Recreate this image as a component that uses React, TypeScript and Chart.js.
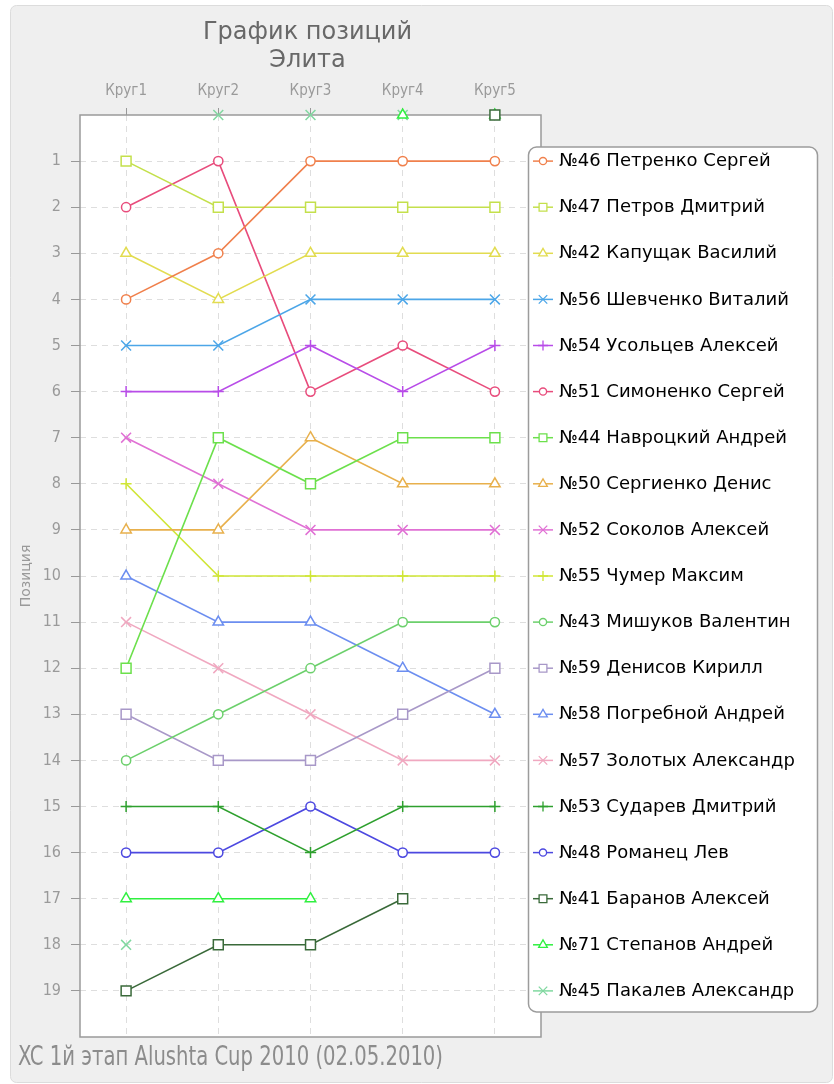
import React, { useEffect, useRef } from 'react';
import { Chart, registerables } from 'chart.js';
import { drawPoint } from 'chart.js/helpers';

Chart.register(...registerables);

// ---- data ----
const rounds = ['Круг1', 'Круг2', 'Круг3', 'Круг4', 'Круг5'];
const chartTitle = ['График позиций', 'Элита'];
const chartSubtitle = 'XC 1й этап Alushta Cup 2010 (02.05.2010)';
const yAxisTitle = 'Позиция';

// position per lap (0 = not classified / drawn on top edge)
const p46 = [4, 3, 1, 1, 1];
const p47 = [1, 2, 2, 2, 2];
const p42 = [3, 4, 3, 3, 3];
const p56 = [5, 5, 4, 4, 4];
const p54 = [6, 6, 5, 6, 5];
const p51 = [2, 1, 6, 5, 6];
const p44 = [12, 7, 8, 7, 7];
const p50 = [9, 9, 7, 8, 8];
const p52 = [7, 8, 9, 9, 9];
const p55 = [8, 10, 10, 10, 10];
const p43 = [14, 13, 12, 11, 11];
const p59 = [13, 14, 14, 13, 12];
const p58 = [10, 11, 11, 12, 13];
const p57 = [11, 12, 13, 14, 14];
const p53 = [15, 15, 16, 15, 15];
const p48 = [16, 16, 15, 16, 16];
const p41 = [19, 18, 18, 17, 0];
const p71 = [17, 17, 17, 0, 0];
const p45 = [18, 0, 0, 0, 0];

const riderNames = [
  '№46 Петренко Сергей',
  '№47 Петров Дмитрий',
  '№42 Капущак Василий',
  '№56 Шевченко Виталий',
  '№54 Усольцев Алексей',
  '№51 Симоненко Сергей',
  '№44 Навроцкий Андрей',
  '№50 Сергиенко Денис',
  '№52 Соколов Алексей',
  '№55 Чумер Максим',
  '№43 Мишуков Валентин',
  '№59 Денисов Кирилл',
  '№58 Погребной Андрей',
  '№57 Золотых Александр',
  '№53 Сударев Дмитрий',
  '№48 Романец Лев',
  '№41 Баранов Алексей',
  '№71 Степанов Андрей',
  '№45 Пакалев Александр',
];
const riderValues = [p46, p47, p42, p56, p54, p51, p44, p50, p52, p55, p43, p59, p58, p57, p53, p48, p41, p71, p45];

const riderColors = [
  '#f0804c', '#c4e04c', '#e2dc50', '#4ca6e8', '#b84ce8',
  '#e84c7c', '#6ce04c', '#e8b04c', '#e070d4', '#d0e634',
  '#6cd06c', '#a898c8', '#6c8ef0', '#f0a8c0', '#2ea02e',
  '#4c48e0', '#3a6a3a', '#30f040', '#80d8a0',
];
const shapeCycle = ['circle', 'rect', 'triangle', 'crossRot', 'cross'];

const shapeRadius: Record<string, number> = { circle: 4.6, rect: 7, triangle: 6, crossRot: 7, cross: 5.5 };
const legendRadius: Record<string, number> = { circle: 3.6, rect: 5.5, triangle: 5, crossRot: 6, cross: 5 };

const FONT = '"DejaVu Sans", sans-serif';
const COND = '"DejaVu Sans Condensed", "DejaVu Sans", sans-serif';

function roundRect(ctx: CanvasRenderingContext2D, x: number, y: number, w: number, h: number, r: number) {
  ctx.beginPath();
  ctx.moveTo(x + r, y);
  ctx.lineTo(x + w - r, y);
  ctx.arcTo(x + w, y, x + w, y + r, r);
  ctx.lineTo(x + w, y + h - r);
  ctx.arcTo(x + w, y + h, x + w - r, y + h, r);
  ctx.lineTo(x + r, y + h);
  ctx.arcTo(x, y + h, x, y + h - r, r);
  ctx.lineTo(x, y + r);
  ctx.arcTo(x, y, x + r, y, r);
  ctx.closePath();
}

const decorPlugin = {
  id: 'decor',
  beforeDraw(chart: any) {
    const { ctx, chartArea: a, width, height } = chart;
    ctx.save();
    ctx.fillStyle = '#ffffff';
    ctx.fillRect(0, 0, width, height);
    roundRect(ctx, 10.5, 5.5, width - 12, height - 7, 6);
    ctx.fillStyle = '#efefef';
    ctx.fill();
    ctx.strokeStyle = '#dcdcdc';
    ctx.lineWidth = 1;
    ctx.stroke();
    ctx.fillStyle = '#ffffff';
    ctx.fillRect(a.left, a.top, a.right - a.left, a.bottom - a.top);
    ctx.restore();
  },
  beforeDatasetsDraw(chart: any) {
    const { ctx, chartArea: a } = chart;
    ctx.save();
    ctx.strokeStyle = '#9a9a9a';
    ctx.lineWidth = 1.5;
    ctx.strokeRect(a.left, a.top, a.right - a.left, a.bottom - a.top);
    ctx.restore();
  },
  afterDraw(chart: any) {
    const { ctx, chartArea: a } = chart;
    const ys = chart.scales.y;
    ctx.save();
    // title
    const cx = (a.left + a.right) / 2 - 3;
    ctx.fillStyle = '#686868';
    ctx.font = `24px ${FONT}`;
    ctx.textAlign = 'center';
    ctx.textBaseline = 'alphabetic';
    ctx.fillText(chartTitle[0], cx, 39);
    ctx.fillText(chartTitle[1], cx, 67);
    // subtitle (condensed to the reference width)
    ctx.fillStyle = '#8c8c8c';
    ctx.font = `26px ${COND}`;
    ctx.textAlign = 'left';
    const w = ctx.measureText(chartSubtitle).width;
    const sx = Math.min(1, 425 / w);
    ctx.save();
    ctx.translate(18, 1065);
    ctx.scale(sx, 1);
    ctx.fillText(chartSubtitle, 0, 0);
    ctx.restore();

    // legend
    const top = ys.getPixelForValue(1) - 14;
    const bottom = ys.getPixelForValue(riderNames.length) + 21;
    const lx = 528.5;
    const lw = 289;
    roundRect(ctx, lx, top, lw, bottom - top, 8);
    ctx.fillStyle = '#ffffff';
    ctx.fill();
    ctx.strokeStyle = '#9c9c9c';
    ctx.lineWidth = 1.5;
    ctx.stroke();
    chart.data.datasets.forEach((ds: any, i: number) => {
      const yy = ys.getPixelForValue(i + 1);
      ctx.strokeStyle = ds.borderColor;
      ctx.lineWidth = 1.5;
      ctx.beginPath();
      ctx.moveTo(533, yy);
      ctx.lineTo(553, yy);
      ctx.stroke();
      ctx.fillStyle = '#ffffff';
      ctx.lineWidth = 1.3;
      drawPoint(ctx, { pointStyle: ds.pointStyle, radius: legendRadius[ds.pointStyle], rotation: 0, borderWidth: 1.3 } as any, 543, yy);
      ctx.fillStyle = '#000000';
      ctx.font = `18px ${FONT}`;
      ctx.textAlign = 'left';
      ctx.textBaseline = 'middle';
      ctx.fillText(ds.label, 559, yy + 0.5);
    });
    ctx.restore();
  },
};

export default function App() {
  const canvasRef = useRef<HTMLCanvasElement | null>(null);

  useEffect(() => {
    const canvas = canvasRef.current;
    if (!canvas) return;
    const datasets = riderNames.map((name, i) => {
      const shape = shapeCycle[i % shapeCycle.length];
      return {
        label: name,
        data: riderValues[i],
        borderColor: riderColors[i],
        backgroundColor: '#ffffff',
        pointBackgroundColor: '#ffffff',
        pointBorderColor: riderColors[i],
        pointStyle: shape,
        pointRadius: shapeRadius[shape],
        pointBorderWidth: 1.5,
        borderWidth: 1.6,
        tension: 0,
        clip: false,
        segment: {
          borderColor: (c: any) => (c.p0.parsed.y === 0 || c.p1.parsed.y === 0 ? 'rgba(0,0,0,0)' : undefined),
        },
      };
    });

    const chart = new Chart(canvas, {
      type: 'line',
      data: { labels: rounds, datasets: datasets as any },
      options: {
        animation: false,
        responsive: false,
        devicePixelRatio: 1,
        layout: { padding: { left: 14, right: 293, top: 75, bottom: 47 } },
        plugins: {
          legend: { display: false },
          title: { display: false },
          tooltip: { enabled: false },
        },
        scales: {
          x: {
            type: 'category',
            position: 'top',
            offset: true,
            afterFit: (s: any) => { s.height = 40; },
            grid: {
              offset: false,
              color: '#dedede',
              lineWidth: 1,
              drawTicks: true,
              tickLength: 7,
              tickColor: '#999999',
              tickWidth: 1,
              tickBorderDash: [],
            },
            border: { display: false, dash: [6, 5] },
            ticks: {
              color: '#9a9a9a',
              font: { family: COND, size: 15 },
              padding: 8,
              maxRotation: 0,
            },
          },
          y: {
            type: 'linear',
            reverse: true,
            min: 0,
            max: 20,
            afterFit: (s: any) => { s.width = 66; },
            grid: {
              color: (c: any) => (c.tick && c.tick.value > 0 && c.tick.value < 20 ? '#dedede' : 'rgba(0,0,0,0)'),
              lineWidth: 1,
              drawTicks: true,
              tickLength: 9,
              tickColor: (c: any) => (c.tick && c.tick.value > 0 && c.tick.value < 20 ? '#999999' : 'rgba(0,0,0,0)'),
              tickWidth: 1,
              tickBorderDash: [],
            },
            border: { display: false, dash: [6, 5] },
            ticks: {
              stepSize: 1,
              autoSkip: false,
              color: '#9a9a9a',
              font: { family: COND, size: 16 },
              padding: 10,
              callback: (v: any) => (v > 0 && v < 20 ? String(v) : ''),
            },
            title: {
              display: true,
              text: yAxisTitle,
              color: '#9a9a9a',
              font: { family: FONT, size: 14 },
              padding: { top: 4, bottom: 0 },
            },
          },
        },
      },
      plugins: [decorPlugin],
    } as any);

    return () => chart.destroy();
  }, []);

  return (
    <div style={{ position: 'absolute', left: 0, top: 0, width: 834, height: 1084 }}>
      <canvas ref={canvasRef} width={834} height={1084} style={{ width: 834, height: 1084, display: 'block' }} />
    </div>
  );
}
